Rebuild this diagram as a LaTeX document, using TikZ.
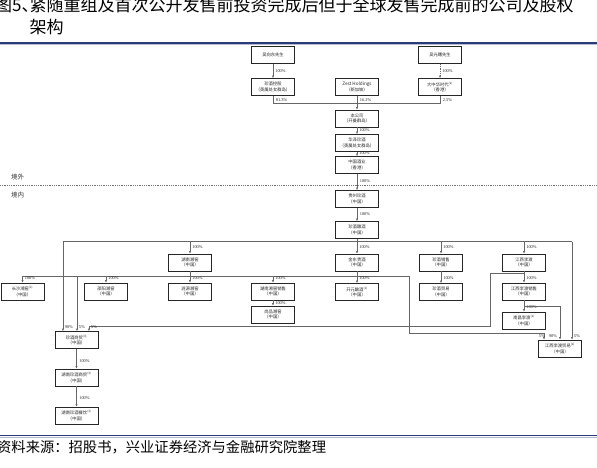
\documentclass[tikz,border=0pt]{standalone}
\usepackage{fontspec}
\setmainfont{Liberation Serif}
\newfontfamily\cjk{Noto Sans CJK SC}
\usetikzlibrary{arrows.meta}
\definecolor{navy}{HTML}{2B3A78}
\begin{document}
\begin{tikzpicture}[x=1pt,y=-1pt,
 ent/.style={draw=black!85, line width=0.85pt, minimum width=43pt, minimum height=17pt, inner sep=0pt, align=center, font=\cjk\fontsize{4.3}{5.4}\selectfont, text=black!85},
 ln/.style={draw=black!60, line width=0.6pt},
 arr/.style={ln, -{Latex[length=2.4pt,width=2.2pt]}},
 pct/.style={font=\fontsize{4.4}{5}\selectfont, inner sep=0.6pt, anchor=west, text=black!85},
 ttl/.style={anchor=west, inner sep=0pt, font=\cjk\fontsize{17}{17}\selectfont},
 zone/.style={font=\cjk\fontsize{6.5}{7}\selectfont, anchor=west, text=black!80, inner sep=0pt}]
\useasboundingbox (0,0) rectangle (597,468);
\fill[white] (0,0) rectangle (597,468);
% title
\node[ttl] (t1) at (-5,5) {图5\makebox[8pt][l]{、}紧随重组及首次公开发售前投资完成后但于全球发售完成前的公司及股权};
\node[ttl] (t2) at (29.4,27) {架构};
\draw[navy, line width=1.1pt] (0,43) -- (597,43);
\draw[navy!35, line width=0.6pt] (0,44.6) -- (597,44.6);
% entities
\node[ent] (wxd) at (273,55) {吴向东先生};
\node[ent] (wgs) at (440,55) {吴光曙先生};
\node[ent] (zjkg) at (273,87) {珍酒控股\\（英属处女群岛）};
\node[ent] (zest) at (357,87) {{\fontsize{4.6}{5.4}\selectfont Zest Holdings}\\（新加坡）};
\node[ent] (dzh) at (440,87) {大中华时代\textsuperscript{(1)}\\（香港）};
\node[ent] (bgs) at (357,118.5) {本公司\\（开曼群岛）};
\node[ent] (hz) at (357,143) {华泽珍酒\\（英属处女群岛）};
\node[ent] (zgjy) at (357,165) {中国酒业\\（香港）};
\node[ent] (gzzj) at (357,199) {贵州珍酒\\（中国）};
\node[ent] (zjnj) at (357,230) {珍酒酿酒\\（中国）};
\node[ent] (hnxj) at (190,262.5) {湖南湘窖\\（中国）};
\node[ent] (jdgj) at (357,262.5) {金东贵酒\\（中国）};
\node[ent] (zjxs) at (441,262.5) {珍酒销售\\（中国）};
\node[ent] (jxld) at (524,262.5) {江西李渡\\（中国）};
\node[ent] (csxj) at (22.5,291.5) {长沙湘窖\textsuperscript{(1)}\\（中国）};
\node[ent] (syxj) at (106,291.5) {邵阳湘窖\\（中国）};
\node[ent] (lyxj) at (190,291.5) {涟源湘窖\\（中国）};
\node[ent] (xjxs) at (273,291.5) {湖南湘窖销售\\（中国）};
\node[ent] (spxj) at (273,314.5) {尚品湘窖\\（中国）};
\node[ent] (kyny) at (357,292) {开元酿酒\textsuperscript{(1)}\\（中国）};
\node[ent] (zjmy) at (441,292) {珍酒贸易\\（中国）};
\node[ent] (jxxs) at (524,291.5) {江西李渡销售\\（中国）};
\node[ent] (ncld) at (524,320.5) {南昌李渡\textsuperscript{(1)}\\（中国）};
\node[ent] (jxmy) at (560,348.5) {江西李渡贸易\textsuperscript{(2)}\\（中国）};
\node[ent] (zjsm) at (76.5,340) {珍酒商贸\textsuperscript{(3)}\\（中国）};
\node[ent] (hnsm) at (76.5,377.5) {湖南珍酒商贸\textsuperscript{(3)}\\（中国）};
\node[ent] (hncy) at (76.5,415.5) {湖南珍酒餐饮\textsuperscript{(3)}\\（中国）};
% top level
\draw[arr] (wxd) -- (zjkg);
\node[pct] (l1) at (274.5,71) {100\%};
\draw[arr, dash pattern=on 1pt off 0.8pt] (wgs) -- (dzh);
\node[pct] (l2) at (441.5,71) {100\%};
\coordinate (b0) at (357,103);
\draw[ln] (zjkg) |- (b0);
\draw[ln] (dzh) |- (b0);
\draw[arr] (zest) -- (bgs);
\node[pct] (l3) at (275,100) {81.3\%};
\node[pct] (l4) at (359,100) {16.2\%};
\node[pct] (l5) at (442,100) {2.5\%};
\draw[arr] (bgs) -- (hz);
\node[pct] (l6) at (358.5,130.5) {100\%};
\draw[arr] (hz) -- (zgjy);
\node[pct] (l7) at (358.5,153.5) {100\%};
\draw[black!55, line width=0.4pt, dash pattern=on 0.9pt off 0.9pt] (0,185) -- (597,185);
\node[zone] (ow) at (11,177) {境外};
\node[zone] (iw) at (11,195.5) {境内};
\draw[arr] (zgjy) -- (gzzj);
\node[pct] (l8) at (359,181) {100\%};
\draw[arr] (gzzj) -- (zjnj);
\node[pct] (l9) at (359,214) {100\%};
% bus 1
\coordinate (B1L) at (63,241.5);
\coordinate (B1R) at (572,241.5);
\draw[ln] (zjnj) -- (zjnj |- B1L);
\draw[ln] (B1L) -- (B1R);
\draw[arr] (hnxj |- B1L) -- (hnxj);
\node[pct] (l10) at (191.5,247) {100\%};
\draw[arr] (jdgj |- B1L) -- (jdgj);
\node[pct] (l11) at (358.5,247) {100\%};
\draw[arr] (zjxs |- B1L) -- (zjxs);
\node[pct] (l12) at (442.5,247) {100\%};
\draw[arr] (jxld |- B1L) -- (jxld);
\node[pct] (l13) at (525.5,247) {100\%};
\draw[arr] (B1L) -- (B1L |- zjsm.north);
\node[pct] (l14) at (64,327.5) {90\%};
\draw[arr] (B1R) -- (B1R |- jxmy.north);
\node[pct] (l15) at (573,336) {5\%};
% bus 2
\coordinate (B2L) at (22.5,276);
\coordinate (B2R) at (409,276);
\draw[arr] (hnxj) -- (lyxj);
\node[pct] (l16) at (191.5,278.5) {100\%};
\draw[ln] (B2L) -- (B2R);
\draw[arr] (B2L) -- (csxj);
\node[pct] (l17) at (24,278.5) {100\%};
\draw[arr] (B2L -| syxj) -- (syxj);
\node[pct] (l18) at (107.5,278.5) {100\%};
\draw[arr] (B2L -| xjxs) -- (xjxs);
\node[pct] (l19) at (274.5,278.5) {100\%};
\draw[arr] (xjxs) -- (spxj);
\node[pct] (l20) at (274.5,303) {100\%};
\coordinate (c5a) at (77,276);
\draw[arr] (c5a) -- (c5a |- zjsm.north);
\node[pct] (l21) at (78,327.5) {5\%};
\coordinate (c5b) at (409,333);
\draw[ln] (B2R) -- (c5b);
\coordinate (c5c) at (544,333);
\draw[ln] (c5b) -- (c5c);
\draw[arr] (c5c) -- (c5c |- jxmy.north);
\node[pct] (l22) at (538,335.8) {5\%};
% others
\draw[arr] (jdgj) -- (kyny);
\node[pct] (l23) at (358.5,278.5) {100\%};
\draw[arr] (zjxs) -- (zjmy);
\node[pct] (l24) at (442.5,278.5) {100\%};
\draw[arr] (jxld) -- (jxxs);
\node[pct] (l25) at (525.5,278) {100\%};
\draw[arr] (jxxs) -- (ncld);
\node[pct] (l26) at (525.5,307.5) {100\%};
\coordinate (c9a) at (524,306);
\coordinate (c9b) at (560,306);
\draw[ln] (c9a) -- (c9b);
\draw[arr] (c9b) -- (jxmy);
\node[pct] (l27) at (548,335.8) {90\%};
% Jiangxi Lidu 5% to Zhenjiu Shangmao
\coordinate (d1) at (524,273);
\coordinate (d2) at (490,273);
\coordinate (d3) at (490,326);
\coordinate (d4) at (89,326);
\draw[ln] (d1) -- (d2) -- (d3) -- (d4);
\draw[arr] (d4) -- (d4 |- zjsm.north);
\node[pct] (l28) at (90,327.5) {5\%};
% bottom left chain
\draw[arr] (zjsm) -- (hnsm);
\node[pct] (l29) at (78.5,361) {100\%};
\draw[arr] (hnsm) -- (hncy);
\node[pct] (l30) at (78.5,398.5) {100\%};
% source
\draw[navy, line width=1.1pt] (0,435.5) -- (597,435.5);
\draw[navy!35, line width=0.6pt] (0,437.1) -- (597,437.1);
\node[anchor=west, inner sep=0pt, font=\cjk\fontsize{14.3}{15}\selectfont] (src) at (-3,447) {资料来源：招股书，兴业证券经济与金融研究院整理};
\end{tikzpicture}
\end{document}
